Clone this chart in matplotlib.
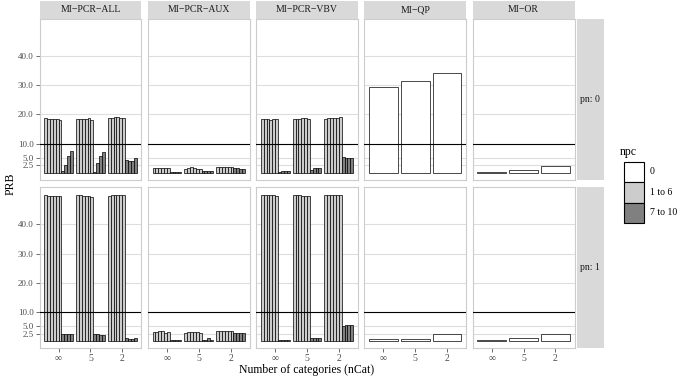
import matplotlib
matplotlib.use("Agg")
import matplotlib.pyplot as plt
from matplotlib.patches import Rectangle

plt.rcParams['font.family'] = ['Liberation Serif', 'DejaVu Serif']

# facet levels and labels
methods = ["MI\u2212PCR\u2212ALL", "MI\u2212PCR\u2212AUX", "MI\u2212PCR\u2212VBV", "MI\u2212QP", "MI\u2212OR"]
pn_levels = ["pn: 0", "pn: 1"]
ncat_labels = ["\u221e", "5", "2"]
npc_labels = ["0", "1 to 6", "7 to 10"]
y_breaks = [2.5, 5.0, 10.0, 20.0, 30.0, 40.0]

# PRB per nCat group, bars for npc = 1..10 (PCR methods)
pcr_all_pn0 = [[18.6, 18.3, 18.4, 18.5, 18.3, 18.2, 0.6, 2.5, 5.6, 7.3],
               [18.4, 18.5, 18.5, 18.5, 18.6, 18.2, 0.4, 3.3, 5.6, 7.1],
               [18.8, 18.9, 19.0, 19.0, 18.9, 18.7, 4.4, 4.1, 4.1, 5.1]]
pcr_all_pn1 = [[50.0, 49.8, 49.8, 49.7, 49.7, 49.7, 2.5, 2.3, 2.3, 2.5],
               [50.2, 50.0, 49.7, 49.7, 49.7, 49.4, 2.5, 2.3, 2.0, 2.0],
               [49.8, 50.0, 50.0, 50.0, 50.0, 50.0, 1.0, 0.8, 0.8, 0.9]]
pcr_aux_pn0 = [[1.6, 1.6, 1.6, 1.6, 1.5, 1.6, 0.2, 0.1, 0.1, 0.1],
               [1.4, 1.7, 1.9, 1.7, 1.4, 1.4, 0.6, 0.5, 0.5, 0.5],
               [1.8, 2.0, 1.9, 1.9, 1.8, 1.8, 1.5, 1.5, 1.4, 1.4]]
pcr_aux_pn1 = [[3.0, 3.0, 3.3, 3.3, 2.9, 3.0, 0.2, 0.2, 0.2, 0.2],
               [2.8, 3.0, 3.0, 3.2, 3.2, 2.8, 0.5, 0.2, 0.9, 0.3],
               [3.3, 3.5, 3.5, 3.5, 3.3, 3.3, 2.8, 2.7, 2.7, 2.8]]
pcr_vbv_pn0 = [[18.4, 18.5, 18.5, 18.2, 18.4, 18.4, 0.3, 0.6, 0.7, 0.7],
               [18.4, 18.5, 18.5, 18.7, 18.7, 18.4, 1.1, 1.5, 1.7, 1.7],
               [18.5, 18.6, 18.6, 18.8, 18.9, 19.1, 5.3, 5.2, 5.1, 5.1]]
pcr_vbv_pn1 = [[50.0, 50.1, 49.9, 50.0, 50.0, 49.7, 0.3, 0.2, 0.2, 0.2],
               [50.1, 49.9, 49.9, 49.8, 49.7, 49.7, 1.0, 1.2, 1.2, 1.2],
               [50.1, 50.1, 50.1, 50.1, 50.2, 50.2, 5.3, 5.6, 5.6, 5.6]]
# single bar (npc = 0) per nCat group
qp_pn0 = [29.5, 31.3, 34.3]
qp_pn1 = [0.8, 0.7, 2.3]
or_pn0 = [0.2, 0.9, 2.4]
or_pn1 = [0.3, 0.9, 2.4]

panels = {
    (0, 0): pcr_all_pn0, (1, 0): pcr_all_pn1,
    (0, 1): pcr_aux_pn0, (1, 1): pcr_aux_pn1,
    (0, 2): pcr_vbv_pn0, (1, 2): pcr_vbv_pn1,
    (0, 3): [[v] for v in qp_pn0], (1, 3): [[v] for v in qp_pn1],
    (0, 4): [[v] for v in or_pn0], (1, 4): [[v] for v in or_pn1],
}

npc_colors = ["white", "#cccccc", "#808080"]


def npc_color(n_bars, i):
    if n_bars == 1:
        return npc_colors[0]
    npc = i + 1
    return npc_colors[1] if npc <= 6 else npc_colors[2]


W, H = 677, 379
fig = plt.figure(figsize=(W / 100, H / 100), dpi=100)

col_left, col_step, col_w = 39.5, 108.3, 101.8
row_top, row_step, row_h = 19.0, 168.3, 161.0
grid_col = "#dedede"
border_col = "#cccccc"
strip_fill = "#d9d9d9"

for (r, c), groups in panels.items():
    left = col_left + c * col_step
    top = row_top + r * row_step
    ax = fig.add_axes([left / W, 1 - (top + row_h) / H, col_w / W, row_h / H])
    ax.set_xlim(0.4, 3.6)
    ax.set_ylim(-2.5, 52.7)
    for g, vals in enumerate(groups):
        n = len(vals)
        bw = 0.9 / n
        for i, v in enumerate(vals):
            x = g + 1 - 0.45 + bw * (i + 0.5)
            ax.bar(x, v, width=bw, color=npc_color(n, i), edgecolor="black",
                   linewidth=0.5, zorder=3)
    ax.axhline(10, color="black", linewidth=0.8, zorder=4)
    ax.set_yticks(y_breaks)
    ax.set_xticks([1, 2, 3])
    ax.yaxis.grid(True, color=grid_col, linewidth=0.8, zorder=0)
    ax.set_axisbelow(True)
    for s in ax.spines.values():
        s.set_color(border_col)
        s.set_linewidth(0.8)
    ax.tick_params(colors="#333333", length=2.7, width=0.5, labelsize=6.5,
                   labelcolor="#4d4d4d", pad=1.5)
    if c == 0:
        ax.set_yticklabels([f"{b:.1f}" for b in y_breaks])
    else:
        ax.tick_params(axis="y", length=0, labelleft=False)
    if r == 1:
        ax.set_xticklabels(ncat_labels, fontsize=7)
    else:
        ax.tick_params(axis="x", length=0, labelbottom=False)

# top strips
for c, name in enumerate(methods):
    left = col_left + c * col_step
    fig.add_artist(Rectangle((left / W, 1 - 18.5 / H), col_w / W, 17.5 / H,
                             transform=fig.transFigure, facecolor=strip_fill,
                             edgecolor="none"))
    fig.text((left + col_w / 2) / W, 1 - 9.8 / H, name, ha="center", va="center",
             fontsize=7, color="#1a1a1a")

# right strips
for r, name in enumerate(pn_levels):
    top = row_top + r * row_step
    fig.add_artist(Rectangle((576.5 / W, 1 - (top + row_h) / H), 27 / W, row_h / H,
                             transform=fig.transFigure, facecolor=strip_fill,
                             edgecolor="none"))
    fig.text(590 / W, 1 - (top + row_h / 2) / H, name, ha="center", va="center",
             fontsize=7, color="#1a1a1a")

fig.text(306.8 / W, 1 - 370 / H, "Number of categories (nCat)", ha="center",
         va="center", fontsize=8.5)
fig.text(11 / W, 1 - 183.5 / H, "PRB", ha="center", va="center", rotation=90,
         fontsize=8.5)

# legend for npc
key_x, key_top, key_size = 623.5, 161.7, 20.5
fig.text(620 / W, 1 - 152 / H, "npc", ha="left", va="center", fontsize=8.5)
for k, (lab, col) in enumerate(zip(npc_labels, npc_colors)):
    y0 = key_top + k * key_size
    fig.add_artist(Rectangle((key_x / W, 1 - (y0 + key_size) / H), key_size / W,
                             key_size / H, transform=fig.transFigure,
                             facecolor=col, edgecolor="black", linewidth=0.8))
    fig.text((key_x + key_size + 6) / W, 1 - (y0 + key_size / 2) / H, lab,
             ha="left", va="center", fontsize=7)

fig.savefig("out.png", dpi=100)
